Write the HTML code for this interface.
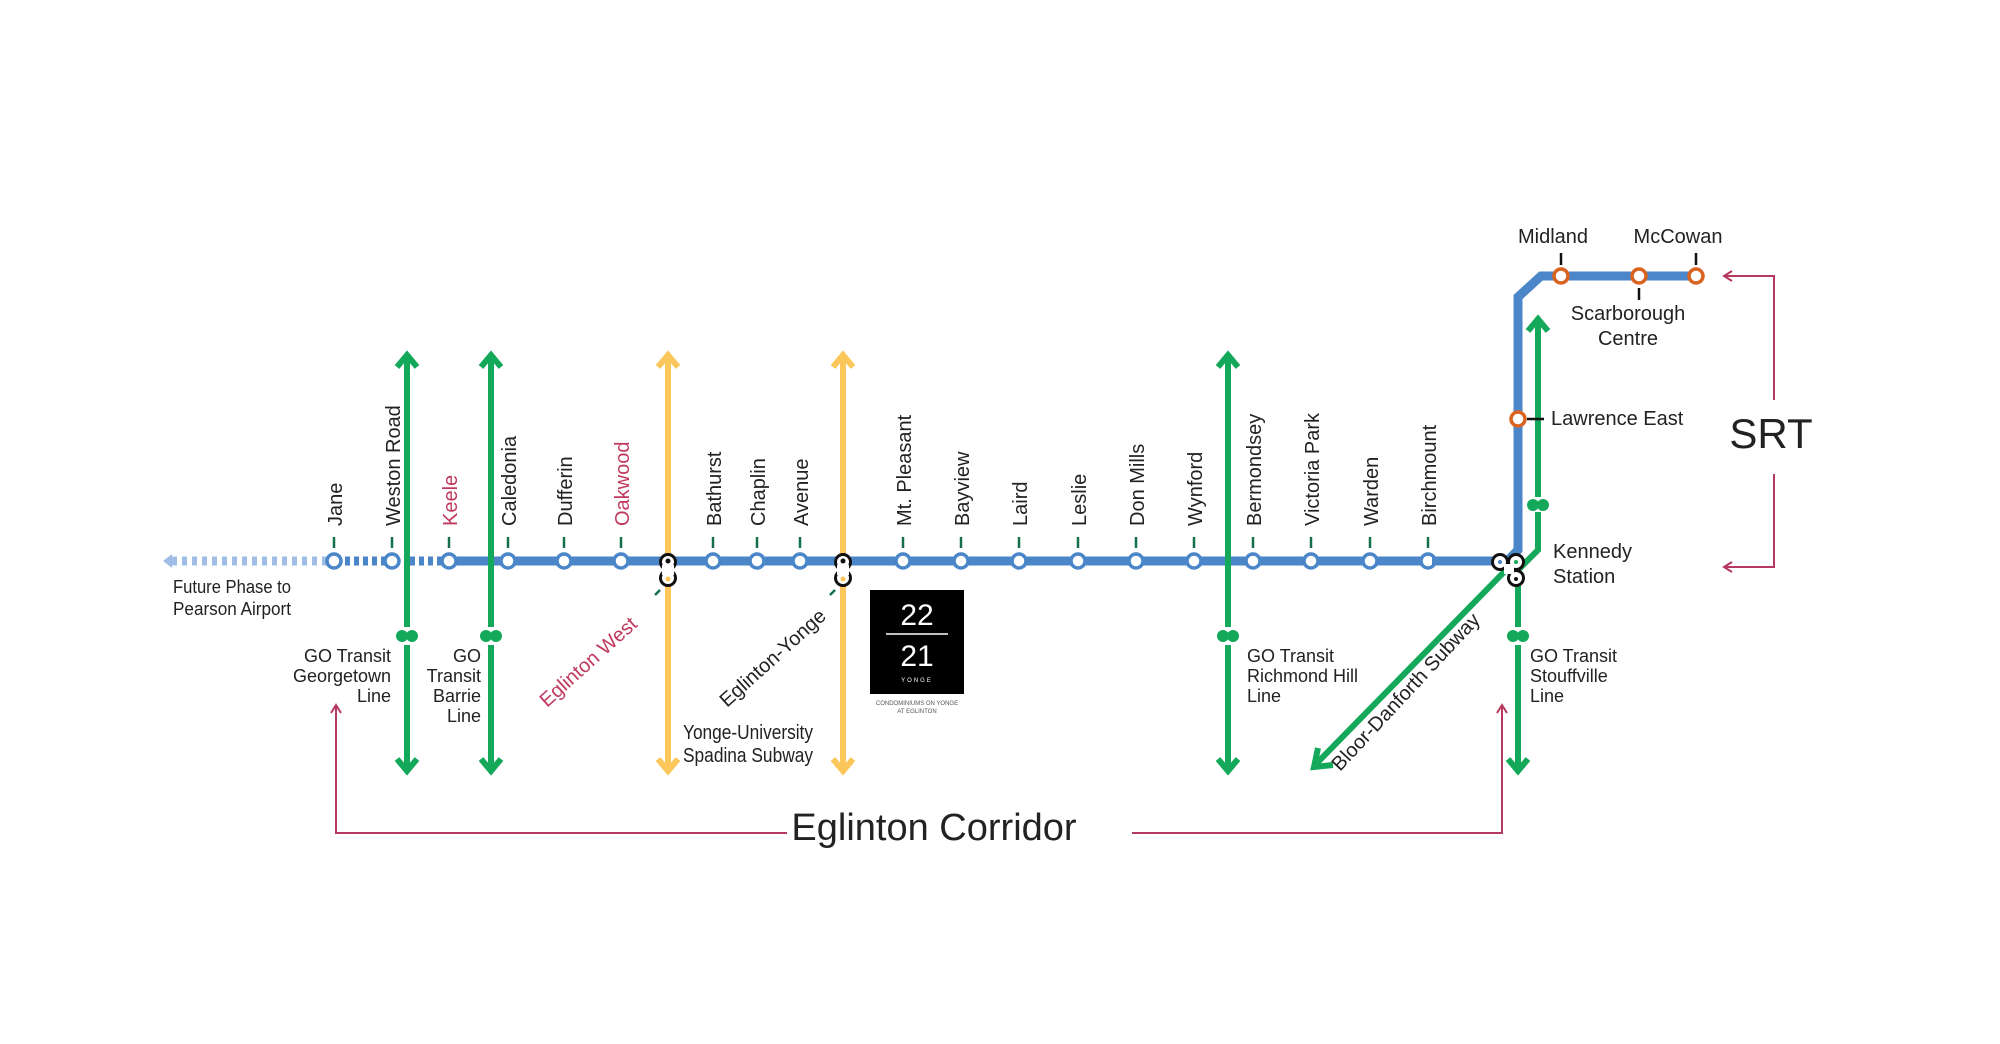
<!DOCTYPE html>
<html><head><meta charset="utf-8"><style>
html,body{margin:0;padding:0;background:#fff;}
svg{display:block;}
text{font-family:"Liberation Sans",sans-serif;fill:#222;}
.n{font-family:"Liberation Sans Narrow","Liberation Sans",sans-serif;font-size:18px;fill:#222;}
.st{font-size:20px;}
.pk{fill:#c0395f;}
</style></head><body>
<svg width="2000" height="1044" viewBox="0 0 2000 1044" xmlns="http://www.w3.org/2000/svg">
<!-- future phase dashed -->
<line x1="172" y1="561" x2="336" y2="561" stroke="#9fbde6" stroke-width="9" stroke-dasharray="5,5"/>
<polygon points="163,561 172,554 172,568" fill="#9fbde6"/>
<line x1="336" y1="561" x2="392" y2="561" stroke="#4a86c8" stroke-width="9" stroke-dasharray="5,4"/>
<line x1="410" y1="561" x2="449" y2="561" stroke="#4a86c8" stroke-width="9" stroke-dasharray="5,4"/>
<!-- main line -->
<line x1="449" y1="561" x2="1450" y2="561" stroke="#4a86c8" stroke-width="9"/>
<!-- green verticals (west) -->
<g stroke="#14a85a" stroke-width="6" fill="none">
<line x1="407" y1="358" x2="407" y2="627"/><line x1="407" y1="645" x2="407" y2="768"/>
<line x1="491" y1="358" x2="491" y2="627"/><line x1="491" y1="645" x2="491" y2="768"/>
<line x1="1228" y1="358" x2="1228" y2="627"/><line x1="1228" y1="645" x2="1228" y2="768"/>
<polyline points="397,367 407,355 417,367"/><polyline points="397,759 407,771 417,759"/>
<polyline points="481,367 491,355 501,367"/><polyline points="481,759 491,771 501,759"/>
<polyline points="1218,367 1228,355 1238,367"/><polyline points="1218,759 1228,771 1238,759"/>
</g>
<g fill="#14a85a">
<circle cx="402" cy="636" r="6"/><circle cx="412" cy="636" r="6"/>
<circle cx="486" cy="636" r="6"/><circle cx="496" cy="636" r="6"/>
<circle cx="1223" cy="636" r="6"/><circle cx="1233" cy="636" r="6"/>
</g>
<!-- yellow -->
<g stroke="#fcc75a" stroke-width="6" fill="none">
<line x1="668" y1="358" x2="668" y2="768"/><line x1="843" y1="358" x2="843" y2="768"/>
<polyline points="658,367 668,355 678,367"/><polyline points="658,759 668,771 678,759"/>
<polyline points="833,367 843,355 853,367"/><polyline points="833,759 843,771 853,759"/>
</g>
<!-- stations -->
<g fill="#fff" stroke="#4a86c8" stroke-width="3.5">
<circle cx="334" cy="561" r="7"/><circle cx="392" cy="561" r="7"/><circle cx="449" cy="561" r="7"/>
<circle cx="508" cy="561" r="7"/><circle cx="564" cy="561" r="7"/><circle cx="621" cy="561" r="7"/>
<circle cx="713" cy="561" r="7"/><circle cx="757" cy="561" r="7"/><circle cx="800" cy="561" r="7"/>
<circle cx="903" cy="561" r="7"/><circle cx="961" cy="561" r="7"/><circle cx="1019" cy="561" r="7"/>
<circle cx="1078" cy="561" r="7"/><circle cx="1136" cy="561" r="7"/><circle cx="1194" cy="561" r="7"/>
<circle cx="1253" cy="561" r="7"/><circle cx="1311" cy="561" r="7"/><circle cx="1370" cy="561" r="7"/>
<circle cx="1428" cy="561" r="7"/>
</g>
<g fill="#fff" stroke="#111" stroke-width="3">
<circle cx="668" cy="562" r="7.5"/><circle cx="668" cy="578" r="7.5"/>
<circle cx="843" cy="562" r="7.5"/><circle cx="843" cy="578" r="7.5"/>
</g>
<g fill="#fff"><rect x="662" y="565" width="12" height="10"/><rect x="837" y="565" width="12" height="10"/></g>
<circle cx="668" cy="561" r="2.5" fill="#111"/><circle cx="668" cy="579" r="2.5" fill="#fcc75a"/>
<circle cx="843" cy="561" r="2.5" fill="#111"/><circle cx="843" cy="579" r="2.5" fill="#fcc75a"/>
<!-- ticks -->
<g stroke="#14704a" stroke-width="2.5">
<line x1="334" y1="537" x2="334" y2="548"/><line x1="392" y1="537" x2="392" y2="548"/><line x1="449" y1="537" x2="449" y2="548"/>
<line x1="508" y1="537" x2="508" y2="548"/><line x1="564" y1="537" x2="564" y2="548"/><line x1="621" y1="537" x2="621" y2="548"/>
<line x1="713" y1="537" x2="713" y2="548"/><line x1="757" y1="537" x2="757" y2="548"/><line x1="800" y1="537" x2="800" y2="548"/>
<line x1="903" y1="537" x2="903" y2="548"/><line x1="961" y1="537" x2="961" y2="548"/><line x1="1019" y1="537" x2="1019" y2="548"/>
<line x1="1078" y1="537" x2="1078" y2="548"/><line x1="1136" y1="537" x2="1136" y2="548"/><line x1="1194" y1="537" x2="1194" y2="548"/>
<line x1="1253" y1="537" x2="1253" y2="548"/><line x1="1311" y1="537" x2="1311" y2="548"/><line x1="1370" y1="537" x2="1370" y2="548"/>
<line x1="1428" y1="537" x2="1428" y2="548"/>
<line x1="660" y1="590" x2="655" y2="595"/><line x1="835" y1="590" x2="830" y2="595"/>
</g>

<!-- EAST GROUP shifted -->
<g transform="translate(-8,0)">
<polyline points="1440,561 1515,561 1526,550 1526,297 1549,276 1705,276" fill="none" stroke="#4a86c8" stroke-width="9"/>
<g stroke="#14a85a" stroke-width="6" fill="none">
<polyline points="1546,322 1546,497"/><polyline points="1546,512 1546,550 1526,570"/>
<line x1="1526" y1="570" x2="1526" y2="627"/><line x1="1526" y1="645" x2="1526" y2="768"/>
<line x1="1513" y1="571" x2="1324" y2="764"/>
<polyline points="1326,748 1322,767 1341,765"/>
<polyline points="1536,331 1546,319 1556,331"/><polyline points="1516,759 1526,771 1536,759"/>
</g>
<g fill="#14a85a">
<circle cx="1541" cy="505" r="6"/><circle cx="1551" cy="505" r="6"/>
<circle cx="1521" cy="636" r="6"/><circle cx="1531" cy="636" r="6"/>
</g>
<g fill="#fff" stroke="#d9631f" stroke-width="3.5">
<circle cx="1569" cy="276" r="7"/><circle cx="1647" cy="276" r="7"/><circle cx="1704" cy="276" r="7"/>
<circle cx="1526" cy="419" r="7"/>
</g>
<g fill="#fff" stroke="#111" stroke-width="3">
<circle cx="1508" cy="562" r="7.5"/><circle cx="1524" cy="562" r="7.5"/><circle cx="1524" cy="578" r="7.5"/>
</g>
<rect x="1512" y="564" width="10" height="10" fill="#fff"/>
<circle cx="1508" cy="562" r="2" fill="#4a86c8"/><circle cx="1524" cy="562" r="2" fill="#14a85a"/><circle cx="1524" cy="579" r="2" fill="#111"/>
<g stroke="#111" stroke-width="2.5">
<line x1="1569" y1="253" x2="1569" y2="265"/><line x1="1704" y1="253" x2="1704" y2="265"/>
<line x1="1647" y1="288" x2="1647" y2="300"/><line x1="1535" y1="419" x2="1552" y2="419"/>
</g>
<g class="st">
<text x="1561" y="243" text-anchor="middle">Midland</text>
<text x="1686" y="243" text-anchor="middle">McCowan</text>
<text x="1636" y="320" text-anchor="middle">Scarborough</text>
<text x="1636" y="345" text-anchor="middle">Centre</text>
<text x="1559" y="425">Lawrence East</text>
<text x="1561" y="558">Kennedy</text>
<text x="1561" y="583">Station</text>
<text transform="translate(1348,772) rotate(-47)">Bloor-Danforth Subway</text>
</g>
<g class="n">
<text x="1538" y="662">GO Transit</text>
<text x="1538" y="682">Stouffville</text>
<text x="1538" y="702">Line</text>
</g>
<g stroke="#b5395e" stroke-width="2" fill="none">
<polyline points="1140,833 1510,833 1510,706"/><polyline points="1505,713 1510,705 1515,713"/>
<polyline points="1733,276 1782,276 1782,400"/><polyline points="1740,271 1732,276 1740,281"/>
<polyline points="1782,474 1782,567 1733,567"/><polyline points="1740,562 1732,567 1740,572"/>
</g>
<text x="1779" y="448" text-anchor="middle" style="font-size:42px">SRT</text>
</g>

<!-- station labels -->
<g class="st">
<text transform="translate(342,526) rotate(-90)">Jane</text>
<text transform="translate(400,526) rotate(-90)">Weston Road</text>
<text class="pk" transform="translate(457,526) rotate(-90)">Keele</text>
<text transform="translate(516,526) rotate(-90)">Caledonia</text>
<text transform="translate(572,526) rotate(-90)">Dufferin</text>
<text class="pk" transform="translate(629,526) rotate(-90)">Oakwood</text>
<text transform="translate(721,526) rotate(-90)">Bathurst</text>
<text transform="translate(765,526) rotate(-90)">Chaplin</text>
<text transform="translate(808,526) rotate(-90)">Avenue</text>
<text transform="translate(911,526) rotate(-90)">Mt. Pleasant</text>
<text transform="translate(969,526) rotate(-90)">Bayview</text>
<text transform="translate(1027,526) rotate(-90)">Laird</text>
<text transform="translate(1086,526) rotate(-90)">Leslie</text>
<text transform="translate(1144,526) rotate(-90)">Don Mills</text>
<text transform="translate(1202,526) rotate(-90)">Wynford</text>
<text transform="translate(1261,526) rotate(-90)">Bermondsey</text>
<text transform="translate(1319,526) rotate(-90)">Victoria Park</text>
<text transform="translate(1378,526) rotate(-90)">Warden</text>
<text transform="translate(1436,526) rotate(-90)">Birchmount</text>
<text class="pk" transform="translate(547,708) rotate(-42)">Eglinton West</text>
<text transform="translate(727,708) rotate(-42)">Eglinton-Yonge</text>
</g>
<g class="n">
<text x="173" y="593" textLength="118" lengthAdjust="spacingAndGlyphs">Future Phase to</text>
<text x="173" y="615" textLength="118" lengthAdjust="spacingAndGlyphs">Pearson Airport</text>
<text x="391" y="662" text-anchor="end">GO Transit</text>
<text x="391" y="682" text-anchor="end">Georgetown</text>
<text x="391" y="702" text-anchor="end">Line</text>
<text x="481" y="662" text-anchor="end">GO</text>
<text x="481" y="682" text-anchor="end">Transit</text>
<text x="481" y="702" text-anchor="end">Barrie</text>
<text x="481" y="722" text-anchor="end">Line</text>
<text x="1247" y="662">GO Transit</text>
<text x="1247" y="682">Richmond Hill</text>
<text x="1247" y="702">Line</text>
<text x="683" y="739" style="font-size:20px" textLength="130" lengthAdjust="spacingAndGlyphs">Yonge-University</text>
<text x="683" y="762" style="font-size:20px" textLength="130" lengthAdjust="spacingAndGlyphs">Spadina Subway</text>
</g>
<!-- logo -->
<rect x="870" y="590" width="94" height="104" fill="#000"/>
<text x="917" y="625" text-anchor="middle" style="font-size:30px;fill:#fff">22</text>
<line x1="886" y1="634" x2="948" y2="634" stroke="#fff" stroke-width="1.5"/>
<text x="917" y="666" text-anchor="middle" style="font-size:30px;fill:#fff">21</text>
<text x="917" y="682" text-anchor="middle" style="font-size:6px;fill:#fff;letter-spacing:2px">YONGE</text>
<text x="917" y="705" text-anchor="middle" style="font-size:6px;fill:#555">CONDOMINIUMS ON YONGE</text>
<text x="917" y="713" text-anchor="middle" style="font-size:6px;fill:#555">AT EGLINTON</text>
<!-- bracket left -->
<g stroke="#b5395e" stroke-width="2" fill="none">
<polyline points="336,706 336,833 787,833"/><polyline points="331,713 336,705 341,713"/>
</g>
<text x="934" y="840" text-anchor="middle" style="font-size:38px">Eglinton Corridor</text>
</svg>
</body></html>
